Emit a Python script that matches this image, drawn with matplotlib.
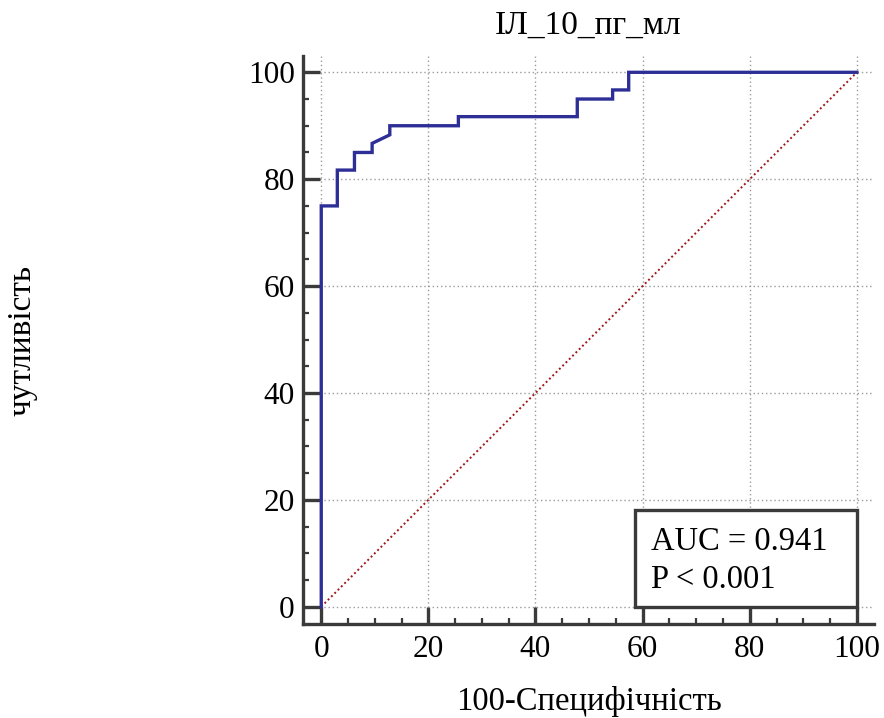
import matplotlib
matplotlib.use("Agg")
import matplotlib.pyplot as plt
from matplotlib.patches import Rectangle
from matplotlib.ticker import MultipleLocator

plt.rcParams['font.family'] = ['Liberation Serif', 'DejaVu Serif']

# ROC curve vertices (100-specificity, sensitivity)
fpr = [0, 0, 3.0, 3.0, 6.2, 6.2, 9.5, 9.5, 12.8, 12.8, 25.6, 25.6,
       47.8, 47.8, 54.4, 54.4, 57.4, 57.4, 100]
tpr = [0, 75.0, 75.0, 81.7, 81.7, 85.0, 85.0, 86.7, 88.3, 90.0, 90.0, 91.7,
       91.7, 95.0, 95.0, 96.7, 96.7, 100, 100]
diag = [0, 100]

title = "ІЛ_10_пг_мл"
xlabel = "100-Специфічність"
ylabel = "чутливість"
auc_text = "AUC = 0.941\nP < 0.001"

spine_c = "#3a3a3a"

fig = plt.figure(figsize=(8.84, 7.18), dpi=100)
ax = fig.add_axes([0.3428, 0.1309, 0.9887 - 0.3428, 0.922 - 0.1309])

ax.plot(fpr, tpr, color="#2d2f96", linewidth=2.4, zorder=3, solid_joinstyle="miter")
ax.plot(diag, diag, color="#a01818", linewidth=1.4, linestyle=(0, (1, 1.4)), zorder=2)

ax.set_xlim(-3.4, 103.2)
ax.set_ylim(-3.24, 103.05)

ax.xaxis.set_major_locator(MultipleLocator(20))
ax.xaxis.set_minor_locator(MultipleLocator(5))
ax.yaxis.set_major_locator(MultipleLocator(20))
ax.yaxis.set_minor_locator(MultipleLocator(5))

ax.grid(True, which="major", color="#9a9a9a", linestyle=(0, (1, 2)), linewidth=1.0)
ax.set_axisbelow(True)

for s in ["top", "right"]:
    ax.spines[s].set_visible(False)
for s in ["left", "bottom"]:
    ax.spines[s].set_color(spine_c)
    ax.spines[s].set_linewidth(2.4)

ax.tick_params(which="major", direction="in", length=12.5, width=2.4, color=spine_c,
               labelsize=22.5, pad=6)
ax.tick_params(axis="x", which="major", pad=8)
ax.tick_params(which="minor", direction="in", length=4.5, width=1.6, color=spine_c)

ax.set_title(title, fontsize=24, pad=16)
ax.set_xlabel(xlabel, fontsize=23.5, labelpad=16)
ax.set_ylabel(ylabel, fontsize=24, labelpad=0)
ax.yaxis.set_label_coords(-0.465, 0.5)

box = Rectangle((58.6, 0), 100 - 58.6, 18.1, fill=True, facecolor="white",
                edgecolor=spine_c, linewidth=2.4, zorder=4)
ax.add_patch(box)
ax.text(61.5, 8.6, auc_text, fontsize=23.5, va="center", ha="left",
        linespacing=1.3, zorder=5)

fig.savefig("out.png", dpi=100)
